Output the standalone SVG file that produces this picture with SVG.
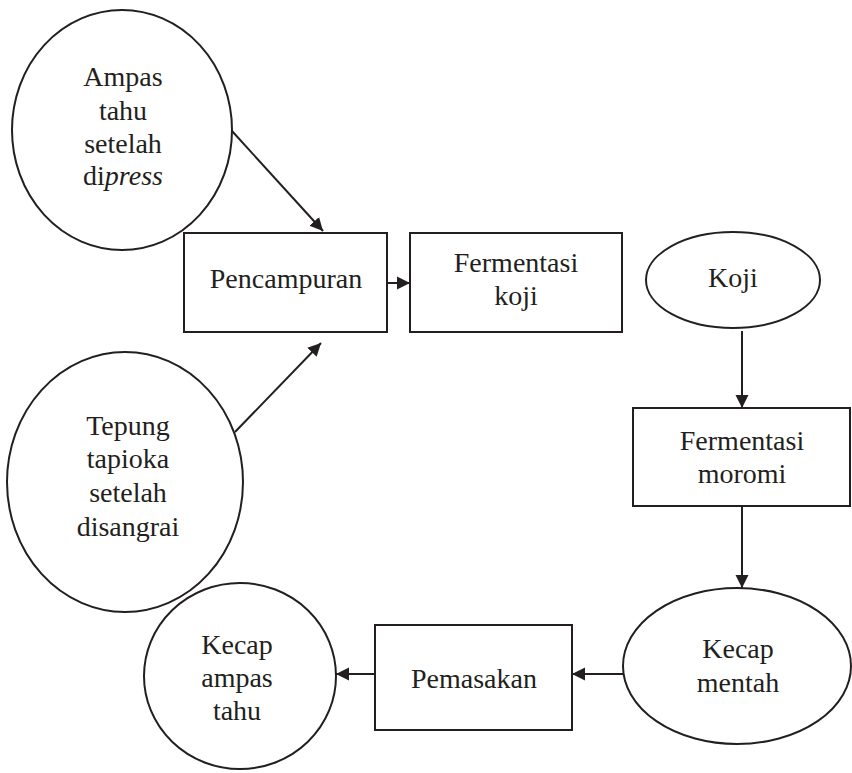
<svg xmlns="http://www.w3.org/2000/svg" width="852" height="773" viewBox="0 0 852 773">
  <style>
    .shape { fill: #ffffff; stroke: #231f20; stroke-width: 2; }
    .label { font-family: "Liberation Serif", "Times New Roman", serif; font-size: 28px; fill: #231f20; text-anchor: middle; }
    .edge { fill: none; stroke: #231f20; stroke-width: 2; marker-end: url(#arrow); }
  </style>
  <defs>
    <marker id="arrow" markerUnits="userSpaceOnUse" markerWidth="14" markerHeight="14" viewBox="0 0 14 14" refX="13" refY="7" orient="auto">
      <path d="M0,0.5 L13,7 L0,13.5 z" fill="#231f20"/>
    </marker>
  </defs>

  <rect width="852" height="773" fill="#ffffff"/>

  <!-- connectors -->
  <g id="connectors">
    <line class="edge" x1="232" y1="131" x2="323" y2="231"/>
    <line class="edge" x1="235" y1="432" x2="321" y2="343"/>
    <line class="edge" x1="387" y1="283" x2="410" y2="283"/>
    <line class="edge" x1="742" y1="331" x2="742" y2="408"/>
    <line class="edge" x1="742" y1="506" x2="742" y2="588"/>
    <line class="edge" x1="623" y1="674" x2="572" y2="674"/>
    <line class="edge" x1="375" y1="674" x2="336" y2="674"/>
  </g>

  <!-- raw material: pressed tofu dregs -->
  <g id="ampas-tahu">
    <ellipse class="shape" cx="122" cy="130" rx="110" ry="120"/>
    <text class="label" x="123" y="86">Ampas</text>
    <text class="label" x="123" y="120">tahu</text>
    <text class="label" x="123" y="153">setelah</text>
    <text class="label" x="123" y="185">di<tspan font-style="italic">press</tspan></text>
  </g>

  <!-- raw material: roasted tapioca flour -->
  <g id="tepung-tapioka">
    <ellipse class="shape" cx="125" cy="482" rx="118" ry="130"/>
    <text class="label" x="128" y="435">Tepung</text>
    <text class="label" x="128" y="468">tapioka</text>
    <text class="label" x="128" y="502">setelah</text>
    <text class="label" x="128" y="536">disangrai</text>
  </g>

  <g id="pencampuran">
    <rect class="shape" x="184" y="233" width="203" height="99"/>
    <text class="label" x="286" y="288">Pencampuran</text>
  </g>

  <g id="fermentasi-koji">
    <rect class="shape" x="410" y="233" width="212" height="99"/>
    <text class="label" x="516" y="272">Fermentasi</text>
    <text class="label" x="516" y="305">koji</text>
  </g>

  <g id="koji">
    <ellipse class="shape" cx="733" cy="280" rx="87" ry="48"/>
    <text class="label" x="733" y="287">Koji</text>
  </g>

  <g id="fermentasi-moromi">
    <rect class="shape" x="633" y="408" width="217" height="98"/>
    <text class="label" x="742" y="450">Fermentasi</text>
    <text class="label" x="742" y="483">moromi</text>
  </g>

  <g id="kecap-mentah">
    <ellipse class="shape" cx="737" cy="666" rx="114" ry="78"/>
    <text class="label" x="738" y="658">Kecap</text>
    <text class="label" x="738" y="692">mentah</text>
  </g>

  <g id="pemasakan">
    <rect class="shape" x="375" y="625" width="197" height="105"/>
    <text class="label" x="474" y="688">Pemasakan</text>
  </g>

  <!-- final product -->
  <g id="kecap-ampas-tahu">
    <ellipse class="shape" cx="240" cy="676" rx="96" ry="93"/>
    <text class="label" x="237" y="654">Kecap</text>
    <text class="label" x="237" y="687">ampas</text>
    <text class="label" x="237" y="720">tahu</text>
  </g>
</svg>
